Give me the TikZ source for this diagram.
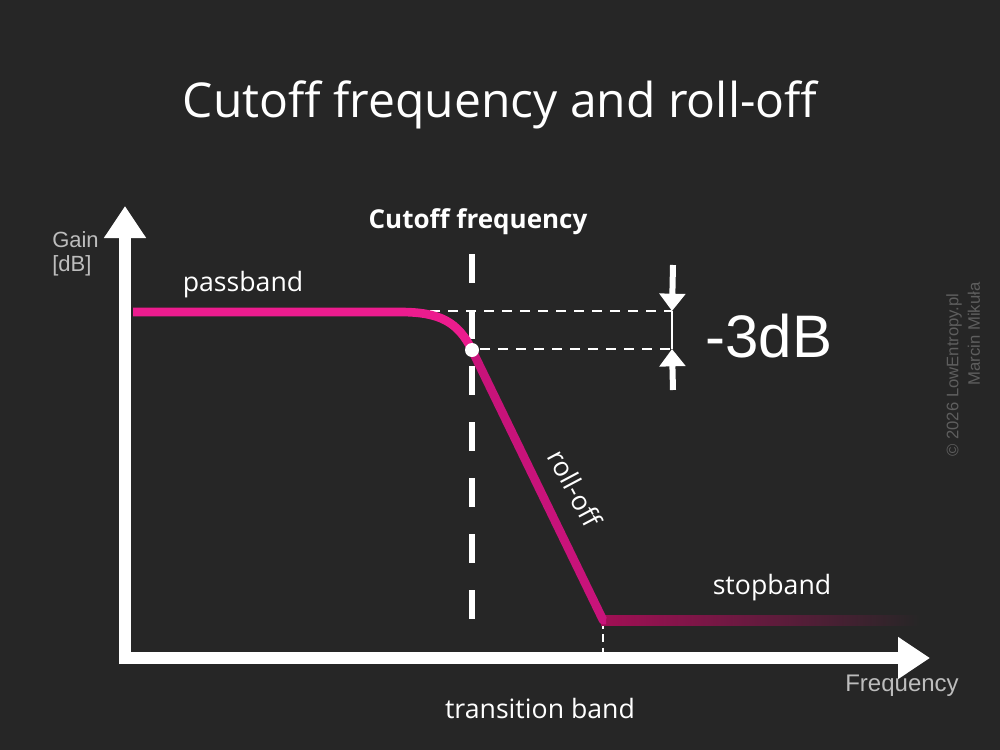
\documentclass[tikz,border=0pt]{standalone}
\usepackage{fontspec}
\setmainfont{Open Sans}
\newfontfamily\arialf{Liberation Sans}
\usetikzlibrary{arrows.meta}
\definecolor{bg}{HTML}{262626}
\definecolor{pk}{HTML}{EC1C8E}
\definecolor{pk2}{HTML}{C8137A}
\definecolor{pk3}{HTML}{A20F55}
\definecolor{dr}{HTML}{5E0418}
\definecolor{gr}{HTML}{BDBDBD}
\definecolor{cg}{HTML}{5E5E5E}
\begin{document}
\begin{tikzpicture}[x=0.75pt,y=-0.75pt,
  txt/.style={text=white,inner sep=0pt,anchor=center},
  axis/.style={white,line width=9pt,-{Triangle[width=30pt,length=24pt]}},
  thin dash/.style={white,line width=2pt,dash pattern=on 7.5pt off 6pt}]
\useasboundingbox[fill=bg] (0,0) rectangle (1000,750);
\node[txt,font=\fontsize{36}{40}\selectfont] (title) at (500,105) {Cutoff frequency and roll-off};
\node[txt,font=\fontsize{19.5}{22}\selectfont\bfseries] (cf) at (478,222) {Cutoff frequency};
% dashed lines
\coordinate (vt) at (472,254); \coordinate (vb) at (472,646);
\draw[white,line width=4.5pt,dash pattern=on 22pt off 20pt] (vt) -- (vb);
\coordinate (h1a) at (430,311); \coordinate (h1b) at (672,311);
\coordinate (h2a) at (480,349); \coordinate (h2b) at (672,349);
\draw[thin dash] (h1a) -- (h1b);
\draw[thin dash] (h2a) -- (h2b);
\coordinate (s1) at (603,621); \coordinate (s2) at (603,656);
\draw[white,line width=1.5pt,dash pattern=on 6pt off 4pt] (s1) -- (s2);
% stopband gradient
\shade[left color=pk3,middle color=dr,right color=bg] (601,615.5) rectangle (920,625.5);
% curve
\coordinate (p0) at (133,312); \coordinate (p1) at (400,312);
\coordinate (pc) at (472,350); \coordinate (pe) at (603,620);
\draw[pk,line width=6.5pt] (p0) -- (p1) .. controls (440,312) and (458,322) .. (pc);
\draw[pk2,line width=6.5pt,line join=round] (pc) -- (pe) -- (606,620);
\fill[white] (pc) circle[radius=7];
% -3dB arrows
\coordinate (a1) at (673,265); \coordinate (a2) at (673,390);
\draw[white,line width=4.5pt,-{Triangle[width=19pt,length=13pt]}] (a1) -- (h1b);
\draw[white,line width=4.5pt,-{Triangle[width=19pt,length=13pt]}] (a2) -- (h2b);
\draw[white,line width=1.5pt] (h1b) -- (h2b);
% axes
\coordinate (o) at (125,658); \coordinate (yt) at (125,206); \coordinate (xt) at (930,658);
\draw[axis] (125,664) -- (yt);
\draw[axis] (119,658) -- (xt);
% labels
\node[txt,anchor=north west,align=left,text=gr,font=\arialf\fontsize{16.5}{18.5}\selectfont] (gain) at (52,231) {Gain\\{[dB]}};
\node[txt,font=\fontsize{20}{22}\selectfont] (pb) at (243,285) {passband};
\node[txt,font=\arialf\fontsize{45}{48}\selectfont] (db) at (769,336) {-3dB};
\node[txt,rotate=-62,font=\fontsize{20}{22}\selectfont] (ro) at (575,488) {roll-off};
\node[txt,font=\fontsize{20}{22}\selectfont] (sb) at (772,588) {stopband};
\node[txt,text=gr,font=\arialf\fontsize{18}{20}\selectfont] (fr) at (902,686) {Frequency};
\node[txt,font=\fontsize{20}{22}\selectfont] (tb) at (540,708) {transition band};
\node[txt,rotate=90,text=cg,font=\arialf\fontsize{12.5}{14}\selectfont] (c1) at (954,375) {© 2026 LowEntropy.pl};
\node[txt,rotate=90,text=cg,font=\arialf\fontsize{12.5}{14}\selectfont] (c2) at (974,334) {Marcin Mikuła};
\end{tikzpicture}
\end{document}
